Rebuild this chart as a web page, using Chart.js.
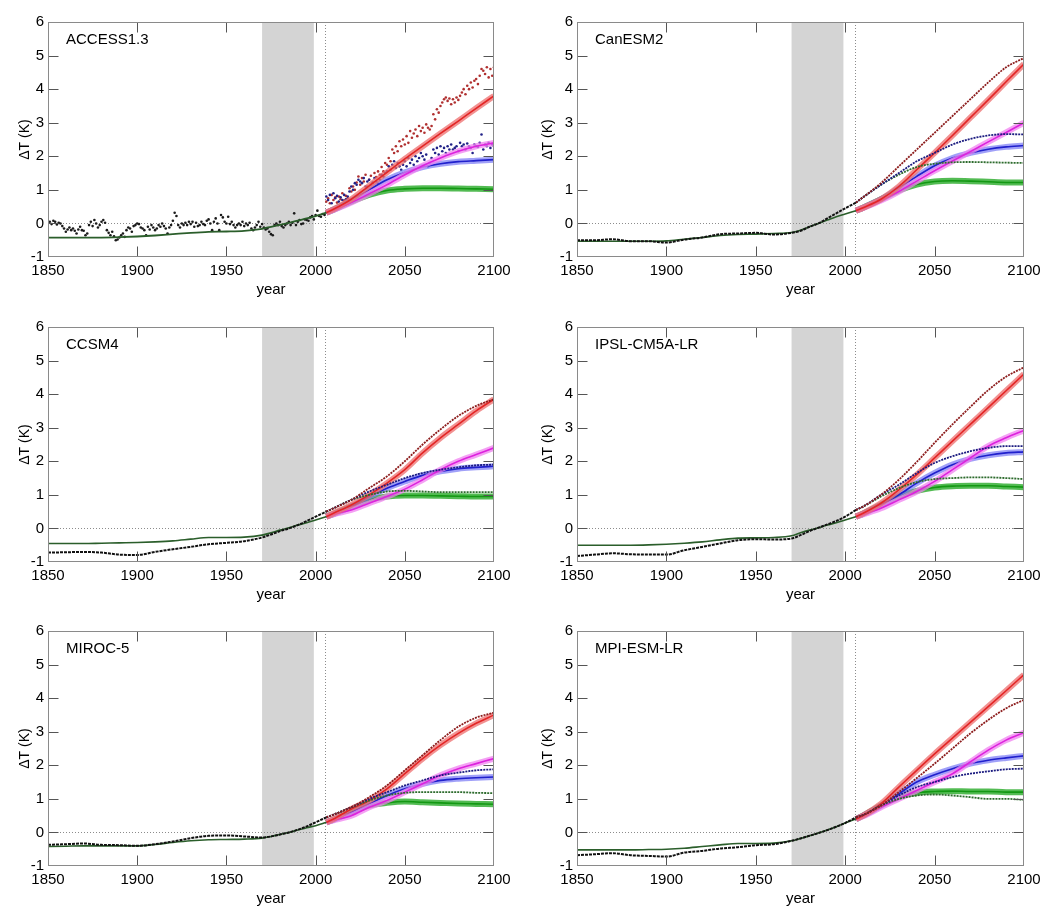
<!DOCTYPE html>
<html>
<head>
<meta charset="utf-8">
<script src="https://cdn.jsdelivr.net/npm/chart.js@4.4.1/dist/chart.umd.min.js"></script>
<style>
  body { margin: 0; background: #fff; width: 1046px; height: 907px; position: relative; overflow: hidden; }
  .panel { position: absolute; width: 523px; height: 290px; }
</style>
</head>
<body>
<div class="panel" style="left:0;top:9px"><canvas id="c0" width="523" height="290"></canvas></div>
<div class="panel" style="left:523px;top:9px"><canvas id="c1" width="523" height="290"></canvas></div>
<div class="panel" style="left:0;top:314px"><canvas id="c2" width="523" height="290"></canvas></div>
<div class="panel" style="left:523px;top:314px"><canvas id="c3" width="523" height="290"></canvas></div>
<div class="panel" style="left:0;top:618px"><canvas id="c4" width="523" height="290"></canvas></div>
<div class="panel" style="left:523px;top:618px"><canvas id="c5" width="523" height="290"></canvas></div>
<script>
// x positions
const yearsHist = [1850,1860,1870,1880,1890,1900,1910,1920,1930,1940,1950,1960,1970,1975,1980,1985,1990,1995,2000,2006];
const yearsFut = [2006,2010,2020,2030,2040,2050,2060,2070,2080,2090,2100];
const yearsDotsHist = Array.from({length: 156}, (_, i) => 1850 + i);
const yearsDotsFut = Array.from({length: 95}, (_, i) => 2006 + i);
const refPeriod = [1970, 1999];
const scenarioStart = 2005.5;

// ACCESS1.3 (annual model values shown as dots)
const accessHistDots = [
  0.0, 0.05, -0.02, 0.08, 0.05, -0.03, 0.02, 0.0, -0.08, -0.15,
  -0.25, -0.18, -0.12, -0.2, -0.15, -0.22, -0.3, -0.18, -0.1, -0.2,
  -0.22, -0.35, -0.3, -0.05, 0.05, -0.08, 0.1, 0.0, -0.12, -0.05,
  0.05, 0.1, 0.02, -0.2, -0.28, -0.35, -0.25, -0.38, -0.5, -0.48,
  -0.42, -0.35, -0.3, -0.4, -0.2, -0.12, -0.15, -0.25, -0.08, -0.05,
  0.0, -0.02, -0.12, -0.15, -0.2, -0.35, -0.1, -0.18, -0.05, -0.12,
  -0.2, -0.15, -0.05, -0.1, 0.0, -0.08, -0.15, -0.3, -0.12, -0.05,
  0.08, 0.32, 0.22, -0.05, -0.12, 0.0, -0.05, 0.02, -0.05, 0.05,
  -0.02, 0.05, -0.1, 0.02, -0.08, -0.05, 0.05, -0.02, -0.05, 0.08,
  0.12, 0.0, -0.2, 0.05, 0.15, 0.0, -0.2, 0.25, 0.18, 0.05,
  0.0, 0.2, -0.02, 0.05, -0.05, -0.12, -0.05, 0.0, -0.05, 0.05,
  -0.08, 0.0, -0.05, 0.02, -0.15, -0.2, -0.12, -0.05, 0.05, -0.1,
  -0.02, -0.12, -0.18, -0.15, -0.25, -0.32, -0.35, -0.05, 0.0, -0.05,
  0.05, -0.08, -0.12, -0.05, 0.0, 0.05, -0.05, 0.02, 0.3, -0.05,
  0.05, 0.1, -0.02, 0.0, 0.12, 0.1, 0.08, 0.18, 0.22, 0.12,
  0.25, 0.38, 0.22, 0.2, 0.28, 0.25
];
const accessRedDots = [
  0.65, 0.75, 0.6, 0.85, 0.7, 0.78, 0.62, 0.8, 0.72, 0.9,
  0.68, 0.82, 0.75, 1.05, 0.95, 1.1, 1.0, 1.22, 1.4, 1.15,
  1.35, 1.25, 1.45, 1.1, 1.3, 1.42, 1.2, 1.5, 1.38, 1.55,
  1.45, 1.68, 1.55, 1.8, 1.75, 1.95, 1.85, 2.2, 2.1, 2.3,
  2.15, 2.45, 2.3, 2.5, 2.35, 2.6, 2.4, 2.75, 2.55, 2.68,
  2.8, 2.6, 2.9, 2.75, 2.85, 2.7, 2.95, 2.85, 2.8, 2.9,
  3.25, 3.1, 3.4, 3.3, 3.5, 3.6, 3.7, 3.75, 3.65, 3.72,
  3.55, 3.7, 3.6, 3.75, 3.68, 3.8, 3.9, 4.0, 3.85, 4.1,
  4.0, 4.2, 4.05, 4.25, 4.3, 4.15, 4.4, 4.6, 4.55, 4.45,
  4.65, 4.35, 4.6, 4.4, 4.65
];
const accessBlueDots = [
  0.8, 0.7, 0.85, 0.6, 0.9, 0.75, 0.82, 0.65, 0.78, 0.7,
  0.85, 0.72, 0.8, 0.95, 1.1, 1.0, 1.2, 1.15, 1.3, 1.25,
  1.2, 1.35, 1.1, 1.25, 1.3, 1.15, 1.22, 1.35, 1.25, 1.18,
  1.3, 1.45, 1.4, 1.5, 1.55, 1.7, 1.6, 1.75, 1.85, 1.65,
  1.8, 1.7, 1.6, 1.75, 1.85, 1.7, 1.95, 1.8, 1.9, 1.75,
  2.0, 1.85, 1.95, 2.1, 2.0, 1.9, 2.05, 1.7, 1.8, 1.95,
  2.2, 2.1, 2.25, 2.05, 2.3, 2.15, 2.25, 2.1, 2.3, 2.2,
  2.35, 2.2, 2.25, 2.3, 2.15, 2.4, 2.3, 2.35, 2.2, 2.38,
  2.3, 2.25, 2.1, 2.35, 2.3, 2.28, 2.4, 2.65, 2.2, 2.35,
  2.3, 2.4, 2.25, 2.35, 2.3
];
const accessHistFit = [-0.42,-0.42,-0.42,-0.42,-0.41,-0.39,-0.36,-0.32,-0.28,-0.25,-0.24,-0.22,-0.16,-0.1,-0.04,0.02,0.08,0.15,0.22,0.32];
const accessRedFit = [0.32,0.42,0.72,1.12,1.52,1.92,2.3,2.68,3.05,3.43,3.8];
const accessMagFit = [0.32,0.4,0.62,0.88,1.15,1.45,1.72,1.95,2.15,2.3,2.4];
const accessBlueFit = [0.32,0.41,0.68,1.0,1.3,1.52,1.68,1.78,1.84,1.87,1.9];
const accessGreenFit = [0.32,0.41,0.65,0.85,0.98,1.03,1.05,1.05,1.04,1.03,1.02];

// CanESM2
const canHist = [-0.5,-0.5,-0.47,-0.53,-0.53,-0.57,-0.48,-0.42,-0.32,-0.3,-0.28,-0.33,-0.28,-0.22,-0.1,0.0,0.15,0.3,0.45,0.62];
const canHistFit = [-0.53,-0.53,-0.53,-0.53,-0.53,-0.52,-0.47,-0.42,-0.36,-0.33,-0.32,-0.3,-0.27,-0.2,-0.1,0.0,0.1,0.2,0.28,0.38];
const canRedFit = [0.38,0.47,0.72,1.1,1.6,2.1,2.62,3.15,3.68,4.22,4.75];
const canMagFit = [0.38,0.46,0.68,0.95,1.26,1.57,1.86,2.14,2.43,2.71,3.0];
const canBlueFit = [0.38,0.47,0.72,1.05,1.4,1.72,1.95,2.1,2.21,2.28,2.32];
const canGreenFit = [0.38,0.47,0.72,0.98,1.16,1.25,1.27,1.26,1.24,1.22,1.22];
const canRedModel = [0.62,0.78,1.2,1.7,2.2,2.7,3.2,3.7,4.2,4.65,4.93];
const canBlueModel = [0.62,0.78,1.15,1.5,1.85,2.1,2.35,2.52,2.62,2.66,2.65];
const canGreenModel = [0.62,0.78,1.15,1.45,1.68,1.78,1.82,1.83,1.82,1.81,1.8];

// CCSM4
const ccsmHist = [-0.72,-0.71,-0.7,-0.72,-0.78,-0.79,-0.7,-0.62,-0.55,-0.47,-0.43,-0.38,-0.27,-0.18,-0.08,0.0,0.1,0.22,0.35,0.5];
const ccsmHistFit = [-0.45,-0.45,-0.45,-0.44,-0.43,-0.42,-0.4,-0.37,-0.32,-0.27,-0.27,-0.26,-0.2,-0.13,-0.05,0.02,0.1,0.17,0.25,0.35];
const ccsmRedFit = [0.35,0.45,0.7,1.0,1.35,1.75,2.25,2.7,3.1,3.5,3.85];
const ccsmMagFit = [0.35,0.42,0.55,0.75,0.95,1.17,1.45,1.75,2.0,2.2,2.4];
const ccsmBlueFit = [0.35,0.43,0.65,0.95,1.2,1.4,1.58,1.7,1.78,1.82,1.85];
const ccsmGreenFit = [0.35,0.43,0.65,0.85,0.95,0.98,0.98,0.97,0.96,0.95,0.95];
const ccsmRedModel = [0.5,0.6,0.85,1.2,1.55,2.0,2.5,2.95,3.35,3.65,3.85];
const ccsmBlueModel = [0.5,0.6,0.85,1.1,1.3,1.5,1.65,1.75,1.82,1.88,1.9];
const ccsmGreenModel = [0.5,0.6,0.85,1.0,1.1,1.12,1.1,1.08,1.08,1.08,1.08];

// IPSL-CM5A-LR
const ipslHist = [-0.82,-0.78,-0.74,-0.77,-0.78,-0.78,-0.65,-0.55,-0.45,-0.35,-0.32,-0.33,-0.3,-0.2,-0.08,0.02,0.12,0.22,0.35,0.55];
const ipslHistFit = [-0.5,-0.5,-0.5,-0.5,-0.49,-0.47,-0.44,-0.4,-0.34,-0.29,-0.28,-0.27,-0.22,-0.13,-0.05,0.02,0.1,0.17,0.25,0.35];
const ipslRedFit = [0.35,0.45,0.75,1.15,1.6,2.1,2.6,3.1,3.6,4.1,4.6];
const ipslMagFit = [0.35,0.42,0.6,0.85,1.1,1.4,1.75,2.1,2.45,2.7,2.92];
const ipslBlueFit = [0.35,0.44,0.7,1.0,1.35,1.65,1.9,2.07,2.18,2.25,2.28];
const ipslGreenFit = [0.35,0.44,0.7,0.95,1.12,1.22,1.26,1.27,1.27,1.25,1.23];
const ipslRedModel = [0.55,0.65,1.0,1.45,1.98,2.55,3.1,3.62,4.12,4.52,4.8];
const ipslBlueModel = [0.55,0.65,1.0,1.3,1.65,1.95,2.15,2.3,2.4,2.45,2.45];
const ipslGreenModel = [0.55,0.65,0.95,1.2,1.38,1.47,1.5,1.52,1.52,1.5,1.47];

// MIROC-5
const mirocHist = [-0.37,-0.35,-0.33,-0.37,-0.38,-0.4,-0.35,-0.27,-0.17,-0.1,-0.09,-0.12,-0.15,-0.12,-0.06,0.0,0.08,0.18,0.3,0.45];
const mirocHistFit = [-0.42,-0.41,-0.4,-0.4,-0.4,-0.4,-0.36,-0.3,-0.25,-0.22,-0.21,-0.2,-0.17,-0.12,-0.06,0.0,0.07,0.14,0.2,0.3];
const mirocRedFit = [0.3,0.4,0.7,0.95,1.3,1.75,2.2,2.6,2.95,3.25,3.5];
const mirocMagFit = [0.3,0.36,0.5,0.75,0.95,1.2,1.45,1.7,1.9,2.05,2.2];
const mirocBlueFit = [0.3,0.38,0.6,0.85,1.1,1.3,1.45,1.55,1.6,1.63,1.65];
const mirocGreenFit = [0.3,0.38,0.6,0.8,0.88,0.92,0.9,0.88,0.86,0.85,0.84];
const mirocRedModel = [0.45,0.53,0.75,1.05,1.4,1.85,2.3,2.75,3.15,3.42,3.57];
const mirocBlueModel = [0.45,0.53,0.75,1.0,1.2,1.4,1.55,1.7,1.78,1.85,1.88];
const mirocGreenModel = [0.45,0.53,0.75,0.95,1.1,1.18,1.2,1.2,1.2,1.18,1.17];

// MPI-ESM-LR
const mpiHist = [-0.68,-0.65,-0.62,-0.68,-0.7,-0.72,-0.6,-0.55,-0.48,-0.44,-0.38,-0.35,-0.25,-0.18,-0.1,-0.02,0.07,0.17,0.28,0.45];
const mpiHistFit = [-0.52,-0.52,-0.52,-0.52,-0.51,-0.5,-0.47,-0.42,-0.37,-0.33,-0.33,-0.32,-0.25,-0.18,-0.1,-0.02,0.07,0.17,0.28,0.4];
const mpiRedFit = [0.4,0.5,0.85,1.35,1.85,2.34,2.81,3.28,3.75,4.22,4.7];
const mpiMagFit = [0.4,0.48,0.75,1.0,1.25,1.5,1.75,2.1,2.45,2.75,2.97];
const mpiBlueFit = [0.4,0.5,0.8,1.15,1.5,1.72,1.9,2.05,2.15,2.22,2.28];
const mpiGreenFit = [0.4,0.5,0.8,1.05,1.18,1.22,1.23,1.22,1.22,1.2,1.2];
const mpiRedModel = [0.45,0.52,0.8,1.2,1.62,2.05,2.5,2.95,3.35,3.7,3.95];
const mpiBlueModel = [0.45,0.52,0.8,1.1,1.35,1.5,1.65,1.75,1.82,1.88,1.9];
const mpiGreenModel = [0.45,0.52,0.8,1.0,1.1,1.13,1.1,1.05,1.0,1.0,0.97];

const FONT = "'Liberation Sans', Arial, sans-serif";
Chart.defaults.font.family = FONT;
Chart.defaults.color = '#000';

const pts = (xs, ys) => xs.map((x, i) => ({x: x, y: ys[i]}));

function line(xs, ys, color, width, order, dash) {
  return {
    data: pts(xs, ys), borderColor: color, borderWidth: width, pointRadius: 0,
    fill: false, cubicInterpolationMode: 'monotone', order: order, borderDash: dash || []
  };
}
function band(xs, ys, halo, core, order) {
  return [line(xs, ys, halo, 6, order + 1), line(xs, ys, core, 1.6, order)];
}
function dots(xs, ys, color, order) {
  return {
    data: pts(xs, ys), showLine: false, pointRadius: 1.3, pointBorderWidth: 0,
    pointBackgroundColor: color, borderColor: color, order: order
  };
}

const C = {
  red: ['rgba(238,110,110,0.75)', '#e32626'],
  mag: ['rgba(240,130,240,0.75)', '#dd22dd'],
  blue: ['rgba(120,120,245,0.7)', '#2020cc'],
  green: ['rgba(40,170,40,0.8)', '#139813'],
  redModel: '#8c1c1c', blueModel: '#1c1c80', greenModel: '#2d6b2d',
  fit: '#2b5e2b', black: '#111'
};

function scenarioSets(red, mag, blue, green) {
  return [].concat(
    band(yearsFut, red, C.red[0], C.red[1], 10),
    band(yearsFut, mag, C.mag[0], C.mag[1], 12),
    band(yearsFut, blue, C.blue[0], C.blue[1], 14),
    band(yearsFut, green, C.green[0], C.green[1], 16)
  );
}
function modelSets(red, blue, green) {
  return [
    line(yearsFut, red, C.redModel, 1.8, 5, [2, 1]),
    line(yearsFut, blue, C.blueModel, 1.8, 6, [2, 1]),
    line(yearsFut, green, C.greenModel, 1.8, 7, [2, 1])
  ];
}

const panels = [
  {title: 'ACCESS1.3', right: false, sets: [].concat(
    [dots(yearsDotsHist, accessHistDots, '#1a1a1a', 30),
     dots(yearsDotsFut, accessRedDots, '#b03030', 31),
     dots(yearsDotsFut, accessBlueDots, '#222288', 30)],
    scenarioSets(accessRedFit, accessMagFit, accessBlueFit, accessGreenFit),
    [line(yearsHist, accessHistFit, C.fit, 1.8, 2)])},
  {title: 'CanESM2', right: true, sets: [].concat(
    modelSets(canRedModel, canBlueModel, canGreenModel),
    scenarioSets(canRedFit, canMagFit, canBlueFit, canGreenFit),
    [line(yearsHist, canHistFit, C.fit, 1.6, 3), line(yearsHist, canHist, C.black, 2, 2, [3, 1])])},
  {title: 'CCSM4', right: false, sets: [].concat(
    modelSets(ccsmRedModel, ccsmBlueModel, ccsmGreenModel),
    scenarioSets(ccsmRedFit, ccsmMagFit, ccsmBlueFit, ccsmGreenFit),
    [line(yearsHist, ccsmHistFit, C.fit, 1.6, 3), line(yearsHist, ccsmHist, C.black, 2, 2, [3, 1])])},
  {title: 'IPSL-CM5A-LR', right: true, sets: [].concat(
    modelSets(ipslRedModel, ipslBlueModel, ipslGreenModel),
    scenarioSets(ipslRedFit, ipslMagFit, ipslBlueFit, ipslGreenFit),
    [line(yearsHist, ipslHistFit, C.fit, 1.6, 3), line(yearsHist, ipslHist, C.black, 2, 2, [3, 1])])},
  {title: 'MIROC-5', right: false, sets: [].concat(
    modelSets(mirocRedModel, mirocBlueModel, mirocGreenModel),
    scenarioSets(mirocRedFit, mirocMagFit, mirocBlueFit, mirocGreenFit),
    [line(yearsHist, mirocHistFit, C.fit, 1.6, 3), line(yearsHist, mirocHist, C.black, 2, 2, [3, 1])])},
  {title: 'MPI-ESM-LR', right: true, sets: [].concat(
    modelSets(mpiRedModel, mpiBlueModel, mpiGreenModel),
    scenarioSets(mpiRedFit, mpiMagFit, mpiBlueFit, mpiGreenFit),
    [line(yearsHist, mpiHistFit, C.fit, 1.6, 3), line(yearsHist, mpiHist, C.black, 2, 2, [3, 1])])}
];

// gray reference period, dotted guides, frame with inward ticks, panel name
const decor = {
  id: 'decor',
  beforeDatasetsDraw(chart) {
    const {ctx, chartArea: a, scales: {x, y}} = chart;
    ctx.save();
    const x0 = x.getPixelForValue(refPeriod[0]), x1 = x.getPixelForValue(refPeriod[1]);
    ctx.fillStyle = '#d4d4d4';
    ctx.fillRect(x0, a.top, x1 - x0, a.bottom - a.top);
    ctx.strokeStyle = '#8c8c8c';
    ctx.lineWidth = 1;
    ctx.setLineDash([1, 2]);
    const yz = Math.round(y.getPixelForValue(0)) + 0.5;
    ctx.beginPath(); ctx.moveTo(a.left, yz); ctx.lineTo(a.right, yz); ctx.stroke();
    const xs = Math.round(x.getPixelForValue(scenarioStart)) + 0.5;
    ctx.beginPath(); ctx.moveTo(xs, a.top); ctx.lineTo(xs, a.bottom); ctx.stroke();
    ctx.restore();
  },
  afterDatasetsDraw(chart, args, opts) {
    const {ctx, chartArea: a, scales: {x, y}} = chart;
    ctx.save();
    ctx.strokeStyle = '#555';
    ctx.lineWidth = 1;
    const L = Math.round(a.left) + 0.5, R = Math.round(a.right) - 0.5;
    const T = Math.round(a.top) + 0.5, B = Math.round(a.bottom) - 0.5;
    ctx.beginPath();
    x.ticks.forEach(t => {
      if (t.value <= x.min || t.value >= x.max) return;
      const px = Math.round(x.getPixelForValue(t.value)) + 0.5;
      ctx.moveTo(px, B); ctx.lineTo(px, B - 10);
      ctx.moveTo(px, T); ctx.lineTo(px, T + 10);
    });
    y.ticks.forEach(t => {
      if (t.value <= y.min || t.value >= y.max) return;
      const py = Math.round(y.getPixelForValue(t.value)) + 0.5;
      ctx.moveTo(L, py); ctx.lineTo(L + 10, py);
      ctx.moveTo(R, py); ctx.lineTo(R - 10, py);
    });
    ctx.stroke();
    ctx.strokeStyle = '#8a8a8a';
    ctx.strokeRect(L, T, R - L, B - T);
    ctx.fillStyle = '#000';
    ctx.font = '15px ' + FONT;
    ctx.textBaseline = 'middle';
    ctx.fillText(opts.title, a.left + 18, a.top + 18);
    ctx.restore();
  }
};

panels.forEach((p, i) => {
  new Chart(document.getElementById('c' + i), {
    type: 'line',
    data: {datasets: p.sets},
    plugins: [decor],
    options: {
      responsive: false,
      animation: false,
      events: [],
      layout: {padding: {left: 17, right: p.right ? 22 : 29, top: 10, bottom: 0}},
      plugins: {
        legend: {display: false},
        tooltip: {enabled: false},
        decor: {title: p.title}
      },
      scales: {
        x: {
          type: 'linear', min: 1850, max: 2100,
          ticks: {stepSize: 50, autoSkip: false, maxRotation: 0, padding: 5,
                  font: {size: 15}, color: '#000', callback: v => String(v)},
          grid: {display: false, drawTicks: false},
          border: {display: false},
          title: {display: true, text: 'year', font: {size: 15}, color: '#000', padding: {top: 0, bottom: 0}},
          afterFit(s) { s.height = 42; }
        },
        y: {
          min: -1, max: 6,
          ticks: {stepSize: 1, padding: 4, font: {size: 15}, color: '#000'},
          grid: {display: false, drawTicks: false},
          border: {display: false},
          title: {display: true, text: 'ΔT (K)', font: {size: 14}, color: '#000', padding: {top: 0, bottom: 0}},
          afterFit(s) { s.width = p.right ? 37 : 31; }
        }
      }
    }
  });
});
</script>
</body>
</html>
